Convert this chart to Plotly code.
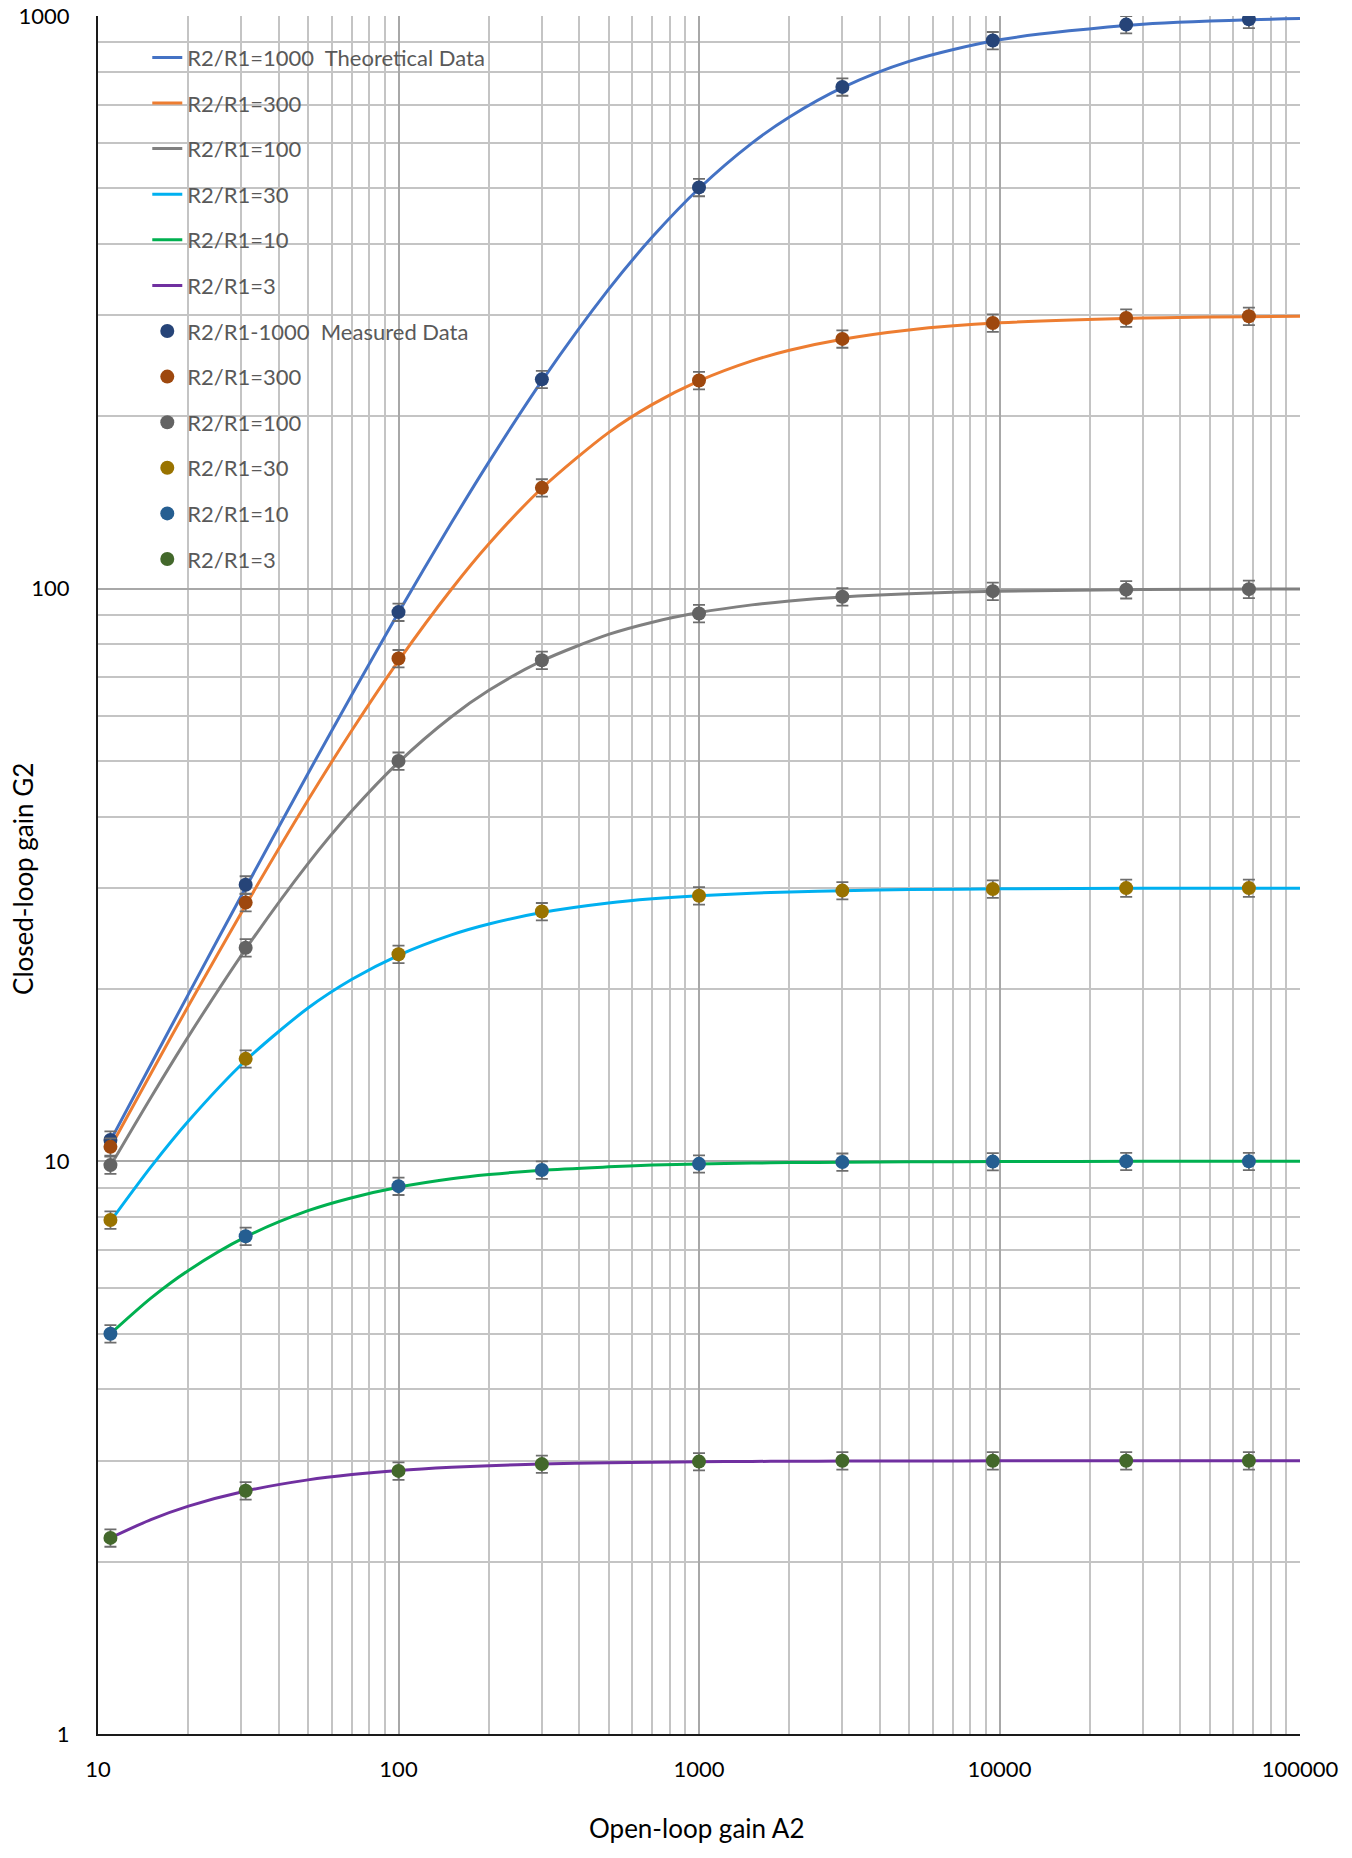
import plotly.graph_objects as go

# === datos ===
a2_teo = [11, 15, 20, 31, 50, 70, 100, 150, 200, 300, 500, 700, 1000, 1500, 2000,
          3000, 5000, 10000, 30000, 100000]

g_teo_1000 = [10.87, 14.76, 19.59, 30.04, 47.57, 65.36, 90.83, 130.3, 166.5, 230.6,
              333.1, 411.5, 499.8, 599.9, 666.4, 749.8, 833.2, 909.0, 967.7, 990.1]
g_teo_300 = [10.58, 14.24, 18.69, 28.01, 42.74, 56.6, 74.81, 99.77, 119.8, 149.75,
             187.3, 209.8, 230.6, 249.9, 260.8, 272.6, 283.0, 291.2, 297.0, 299.1]
g_teo_100 = [9.82, 12.93, 16.53, 23.48, 33.11, 40.93, 49.75, 59.76, 66.45, 74.81,
             83.19, 87.39, 90.83, 93.69, 95.19, 96.74, 98.02, 99.0, 99.66, 99.9]
g_teo_30 = [7.857, 9.78, 11.76, 15.0, 18.52, 20.79, 22.9, 24.86, 25.97, 27.19,
            28.25, 28.73, 29.1, 29.39, 29.54, 29.69, 29.82, 29.91, 29.97, 29.99]
g_teo_10 = [5.0, 5.77, 6.45, 7.38, 8.2, 8.64, 9.01, 9.32, 9.48, 9.65,
            9.78, 9.85, 9.89, 9.93, 9.95, 9.96, 9.98, 9.99, 10.0, 10.0]
g_teo_3 = [2.2, 2.368, 2.5, 2.657, 2.778, 2.838, 2.885, 2.922, 2.941, 2.961,
           2.976, 2.983, 2.988, 2.992, 2.994, 2.996, 2.998, 2.999, 3.0, 3.0]

a2_med = [11, 31, 100, 300, 1000, 3000, 9500, 26400, 67600]

g_med_1000 = [10.9, 30.4, 91.0, 232, 502, 752, 906, 966, 987]
g_med_300 = [10.6, 28.3, 75.5, 150, 231, 273, 291, 297, 299]
g_med_100 = [9.85, 23.6, 50.0, 75.0, 90.5, 96.8, 99.0, 99.6, 99.8]
g_med_30 = [7.9, 15.1, 23.0, 27.3, 29.1, 29.7, 29.9, 30.0, 30.0]
g_med_10 = [5.0, 7.4, 9.05, 9.66, 9.9, 9.97, 9.99, 10.0, 10.0]
g_med_3 = [2.2, 2.66, 2.88, 2.96, 2.99, 3.0, 3.0, 3.0, 3.0]

nombres_teo = ["R2/R1=1000\u00a0\u00a0Theoretical Data", "R2/R1=300", "R2/R1=100",
               "R2/R1=30", "R2/R1=10", "R2/R1=3"]
nombres_med = ["R2/R1-1000\u00a0\u00a0Measured Data", "R2/R1=300", "R2/R1=100",
               "R2/R1=30", "R2/R1=10", "R2/R1=3"]

colores_teo = ["#4472C4", "#ED7D31", "#808080", "#00B0F0", "#00B050", "#7030A0"]
colores_med = ["#264478", "#9E480E", "#636363", "#997300", "#255E91", "#43682B"]

series_teo = [g_teo_1000, g_teo_300, g_teo_100, g_teo_30, g_teo_10, g_teo_3]
series_med = [g_med_1000, g_med_300, g_med_100, g_med_30, g_med_10, g_med_3]

fuente = "Lato"

fig = go.Figure()

# curvas teoricas
for i, (ys, nom, col) in enumerate(zip(series_teo, nombres_teo, colores_teo)):
    fig.add_trace(go.Scatter(
        x=a2_teo, y=ys, name=nom, mode="lines",
        line=dict(color=col, width=3, shape="spline", smoothing=0.8),
        legendgroup=f"t{i}"
    ))

# datos medidos
for i, (ys, nom, col) in enumerate(zip(series_med, nombres_med, colores_med)):
    fig.add_trace(go.Scatter(
        x=a2_med, y=ys, name=nom, mode="markers",
        marker=dict(color=col, size=14),
        error_y=dict(type="percent", value=3.5, color="#6E6E6E", thickness=1.8, width=6),
        legendgroup=f"m{i}"
    ))

minor_vals = [m * 10 ** e for e in range(0, 5) for m in range(2, 10)]

fig.update_xaxes(
    type="log", range=[1, 5],
    tickvals=[10, 100, 1000, 10000, 100000],
    ticktext=["10", "100", "1000", "10000", "100000"],
    showgrid=True, gridcolor="#A8A8A8", gridwidth=2,
    minor=dict(tickvals=minor_vals, showgrid=True, gridcolor="#C4C4C4", gridwidth=2),
    showline=True, linecolor="#1A1A1A", linewidth=2,
    ticks="", ticklabelstandoff=15, automargin=False, ticklabeloverflow="allow",
    tickfont=dict(family=fuente, size=22, color="black"),
    zeroline=False
)

fig.update_yaxes(
    type="log", range=[0, 3],
    tickvals=[1, 10, 100, 1000],
    ticktext=["1", "10", "100", "1000"],
    showgrid=True, gridcolor="#A8A8A8", gridwidth=2,
    minor=dict(tickvals=minor_vals, showgrid=True, gridcolor="#C4C4C4", gridwidth=2),
    showline=True, linecolor="#1A1A1A", linewidth=2,
    ticks="", ticklabelstandoff=22, automargin=False, ticklabeloverflow="allow",
    tickfont=dict(family=fuente, size=22, color="black"),
    zeroline=False
)

# titulos de ejes
fig.add_annotation(text="Open-loop gain A2", xref="paper", yref="paper",
                   x=0.4983, y=-0.0548, xanchor="center", yanchor="middle",
                   showarrow=False, font=dict(family=fuente, size=26, color="black"))
fig.add_annotation(text="Closed-loop gain G2", xref="paper", yref="paper",
                   x=-0.0624, y=0.4977, xanchor="center", yanchor="middle", textangle=-90,
                   showarrow=False, font=dict(family=fuente, size=26, color="black"))

fig.update_layout(
    width=1352, height=1858,
    margin=dict(l=98, r=52, t=16, b=124),
    plot_bgcolor="white", paper_bgcolor="white",
    legend=dict(
        x=0.041, y=0.988, xanchor="left", yanchor="top",
        bgcolor="rgba(0,0,0,0)", borderwidth=0,
        font=dict(family=fuente, size=22, color="#595959"),
        traceorder="grouped", tracegroupgap=14
    ),
    showlegend=True
)

# quitar el margen de 8px del body para que la figura empiece en (0, 0)
fig.write_html("out.html", config={"displayModeBar": False},
               post_script="document.body.style.margin='0';")
